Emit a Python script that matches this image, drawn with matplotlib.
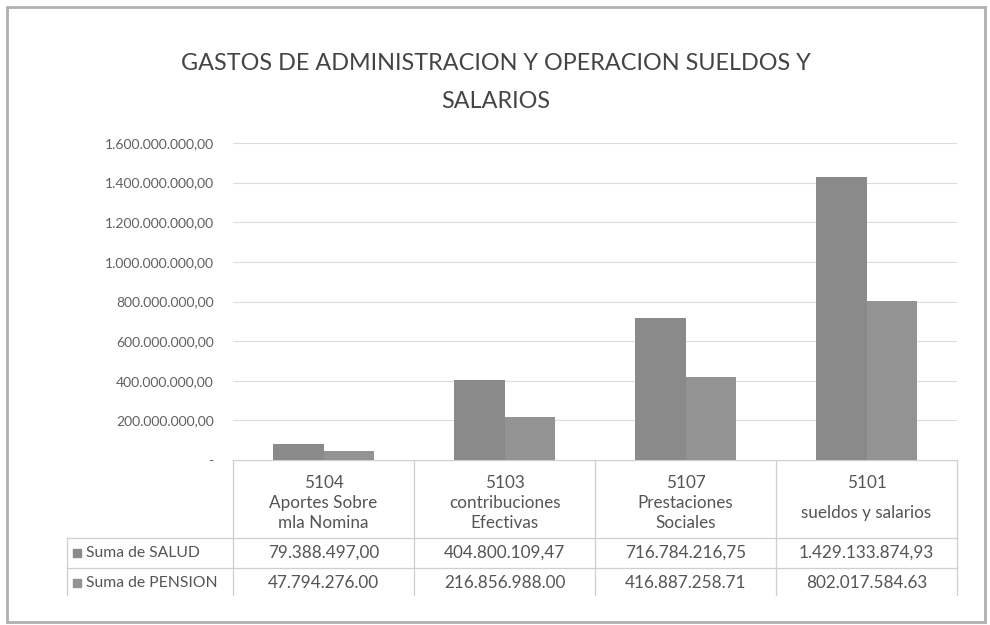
import matplotlib
matplotlib.use("Agg")
import matplotlib.pyplot as plt
from matplotlib.lines import Line2D
from matplotlib.patches import Rectangle
from matplotlib.ticker import FuncFormatter
import numpy as np

# Data
codes = ['5104', '5103', '5107', '5101']
names = ['Aportes Sobre\nmla Nomina', 'contribuciones\nEfectivas',
         'Prestaciones\nSociales', 'sueldos y salarios']
salud = [79388497.00, 404800109.47, 716784216.75, 1429133874.93]
pension = [47794276.00, 216856988.00, 416887258.71, 802017584.63]
series_names = ['Suma de SALUD', 'Suma de PENSION']
y_ticks = [0, 200e6, 400e6, 600e6, 800e6, 1000e6, 1200e6, 1400e6, 1600e6]

TEXT = '#555555'
GRID = '#dcdcdc'
BAR_SALUD = '#8a8a8a'
BAR_PENSION = '#939393'

plt.rcParams['font.family'] = ['Lato', 'DejaVu Sans']


def es_number(v, dec=','):
    # 1.234.567,89 style (the PENSION row in the source uses '.' for decimals too)
    s = f'{v:,.2f}'
    ent, frac = s.split('.')
    return ent.replace(',', '.') + dec + frac


W, H = 990, 625
fig = plt.figure(figsize=(W / 100, H / 100), dpi=100)

# plot area in pixels
left, right, top, bottom = 233, 957, 143, 460
ax = fig.add_axes([left / W, 1 - bottom / H, (right - left) / W, (bottom - top) / H])

x = np.arange(len(codes))
bw = 0.28
ax.bar(x - bw / 2, salud, bw, color=BAR_SALUD, zorder=3)
ax.bar(x + bw / 2, pension, bw, color=BAR_PENSION, zorder=3)

ax.set_xlim(-0.5, len(codes) - 0.5)
ax.set_ylim(0, 1.6e9)
ax.set_yticks(y_ticks)
ax.yaxis.set_major_formatter(FuncFormatter(lambda v, p: '-' if v == 0 else es_number(v)))
ax.tick_params(axis='y', length=0, pad=14, labelsize=10, labelcolor='#606060')
ax.set_xticks([])
ax.grid(axis='y', color=GRID, linewidth=0.8, zorder=0)
for s in ax.spines.values():
    s.set_visible(False)

# overlay in pixel coordinates for title, data table and frame
ov = fig.add_axes([0, 0, 1, 1], zorder=-1)
ov.set_xlim(0, W)
ov.set_ylim(H, 0)
ov.axis('off')

ov.add_patch(Rectangle((7, 7), 978, 615, fill=False, edgecolor='#b0b0b0', linewidth=2))

ov.text(496, 64, 'GASTOS DE ADMINISTRACION Y OPERACION SUELDOS Y',
        ha='center', va='center', fontsize=16.8, color='#444444')
ov.text(496, 101, 'SALARIOS', ha='center', va='center',
        fontsize=16.8, color='#444444')

# data table
cw = (right - left) / len(codes)
row_left = 67
fs = 12.3
line_kw = dict(color='#cfcfcf', linewidth=0.9)
ov.add_line(Line2D([left, right], [bottom, bottom], **line_kw))
for yy in (538, 568):
    ov.add_line(Line2D([row_left, right], [yy, yy], **line_kw))
for i in range(len(codes) + 1):
    ov.add_line(Line2D([left + i * cw] * 2, [bottom, 595], **line_kw))
ov.add_line(Line2D([row_left, row_left], [538, 595], **line_kw))

for i, (c, n) in enumerate(zip(codes, names)):
    cx = left + (i + 0.5) * cw
    ov.text(cx, 483, c, ha='center', va='center', fontsize=fs, color=TEXT)
    ov.text(cx, 513, n, ha='center', va='center', fontsize=fs, color=TEXT,
            linespacing=1.3)
    ov.text(cx, 553, es_number(salud[i], ','), ha='center', va='center',
            fontsize=fs, color=TEXT)
    ov.text(cx, 583, es_number(pension[i], '.'), ha='center', va='center',
            fontsize=fs, color=TEXT)

for yy, name, col in zip((553, 583), series_names, (BAR_SALUD, BAR_PENSION)):
    ov.add_patch(Rectangle((73, yy - 4), 8, 8, color=col))
    ov.text(86, yy, name, ha='left', va='center', fontsize=11.3, color=TEXT)

fig.savefig('out.png', dpi=100)
